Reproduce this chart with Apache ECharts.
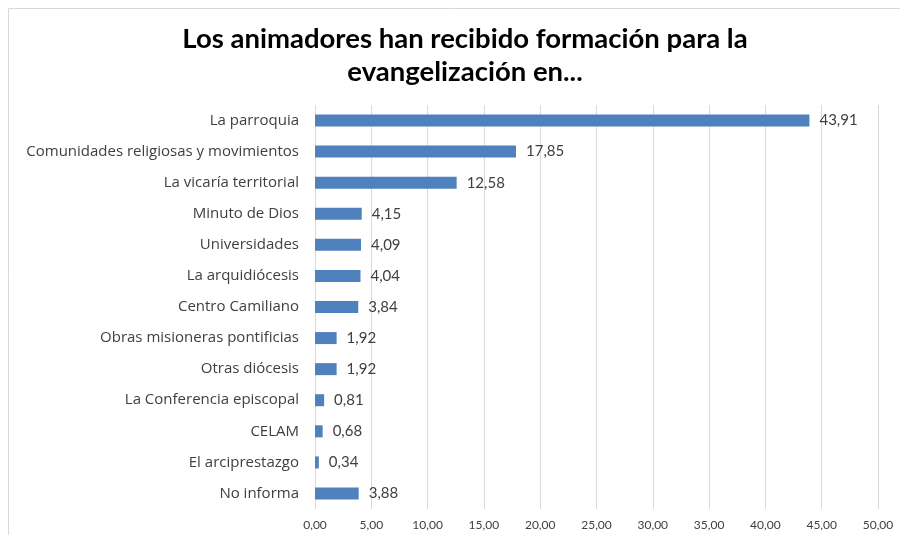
<!DOCTYPE html>
<html>
<head>
<meta charset="utf-8">
<script src="https://cdn.jsdelivr.net/npm/echarts@6/dist/echarts.min.js"></script>
<style>
  html, body { margin: 0; padding: 0; background: #fff; }
  #chart { width: 900px; height: 535px; }
</style>
</head>
<body>
<div id="chart"></div>
<script>
const categories = [
  "La parroquia",
  "Comunidades religiosas y movimientos",
  "La vicaría territorial",
  "Minuto de Dios",
  "Universidades",
  "La arquidiócesis",
  "Centro Camiliano",
  "Obras misioneras pontificias",
  "Otras diócesis",
  "La Conferencia episcopal",
  "CELAM",
  "El arciprestazgo",
  "No informa"
];
const values = [43.91, 17.85, 12.58, 4.15, 4.09, 4.04, 3.84, 1.92, 1.92, 0.81, 0.68, 0.34, 3.88];
const titleText = "Los animadores han recibido formación para la\nevangelización en...";

const fmt = (v) => v.toFixed(2).replace(".", ",");

const chart = echarts.init(document.getElementById("chart"), null, { renderer: "canvas" });

chart.setOption({
  animation: false,
  backgroundColor: "#fff",
  title: {
    text: titleText,
    left: 460,
    textAlign: "center",
    top: 18,
    textStyle: {
      fontFamily: "Lato",
      fontWeight: "bold",
      fontSize: 27.5,
      lineHeight: 33,
      color: "#000"
    }
  },
  graphic: [
    {
      type: "rect",
      shape: { x: 8.5, y: 8.5, width: 900, height: 540 },
      style: { fill: "none", stroke: "#d9d9d9", lineWidth: 1 },
      silent: true
    }
  ],
  grid: {
    left: 315,
    right: 22,
    top: 105,
    bottom: 26,
    containLabel: false
  },
  xAxis: {
    type: "value",
    min: 0,
    max: 50,
    interval: 5,
    axisLine: { show: false },
    axisTick: { show: false },
    splitLine: { show: true, lineStyle: { color: "#d9d9d9", width: 1 } },
    axisLabel: {
      formatter: fmt,
      color: "#404040",
      fontFamily: "Lato",
      fontSize: 12,
      margin: 10
    }
  },
  yAxis: {
    type: "category",
    data: categories,
    inverse: true,
    axisLine: { show: false },
    axisTick: { show: false },
    axisLabel: {
      color: "#404040",
      fontFamily: "Open Sans",
      fontSize: 15,
      margin: 16
    }
  },
  series: [
    {
      type: "bar",
      data: values,
      barWidth: 12,
      itemStyle: { color: "#4f81bd" },
      label: {
        show: true,
        position: "right",
        distance: 10,
        formatter: (p) => fmt(p.value),
        color: "#404040",
        fontFamily: "Lato",
        fontSize: 15
      }
    }
  ]
});
</script>
</body>
</html>
